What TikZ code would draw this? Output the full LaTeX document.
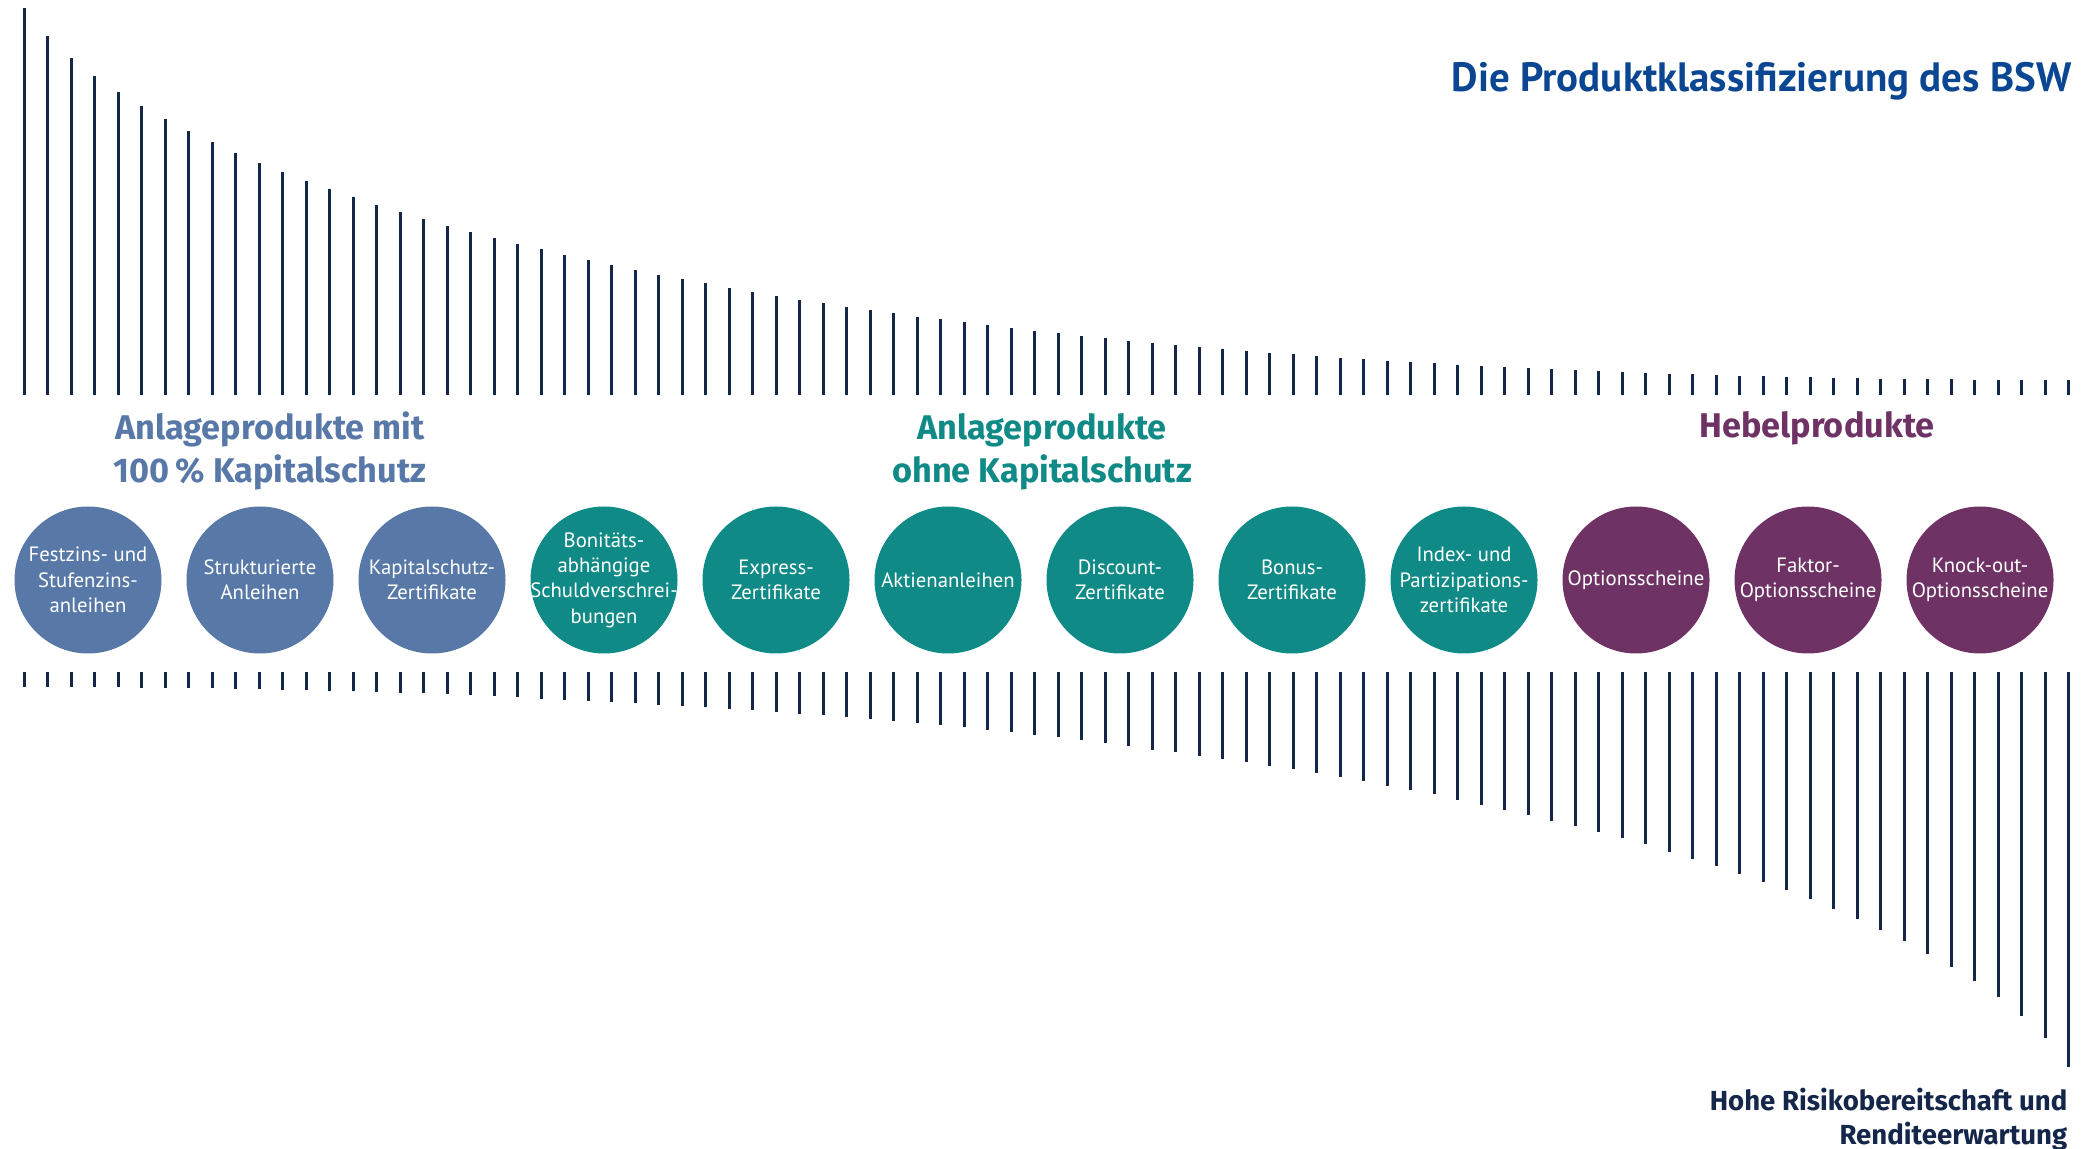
\documentclass[tikz,border=0pt]{standalone}
\usepackage{fontspec}
\setmainfont{Fira Sans}
\newfontfamily\condfont{PT Sans}
\definecolor{navy}{RGB}{20,38,74}
\definecolor{titleblue}{RGB}{10,70,145}
\definecolor{protblue}{RGB}{88,120,168}
\definecolor{bswteal}{RGB}{16,138,134}
\definecolor{bswplum}{RGB}{110,51,100}

\begin{document}
\begin{tikzpicture}[x=0.1mm,y=-0.1mm,
  bar/.style={line width=0.3mm,draw=navy},
  prod/.style={circle,minimum size=14.7mm,inner sep=-1.5mm,text=white,align=center,
    font=\condfont\fontsize{5.9}{7.2}\selectfont},
  group/.style={align=center,inner sep=0pt,anchor=base,font=\bfseries\fontsize{9.75}{12.5}\selectfont}]
\useasboundingbox (0,0) rectangle (2089,1149);

% Bars above the circles (falling)
\foreach \h [count=\i from 0] in {387,359,337,319,303,289,276,264,253,242,232,223,214,206,198,190,183,176,169,163,157,
  151,146,140,135,130,125,120,116,112,107,103,99,95,92,88,85,82,78,76,73,70,67,64,
  62,59,57,54,52,50,48,46,44,42,41,39,37,36,34,33,32,30,29,28,27,26,25,24,23,22,21,21,20,
  19,19,18,18,17,17,16,16,16,16,15,15,15,15,15}
  \draw[bar] (24+23.5*\i,395) -- ++(0,-\h);

% Bars below the circles (rising)
\foreach \h [count=\i from 0] in {387,359,337,319,303,289,276,264,253,242,232,223,214,206,198,190,183,176,169,163,157,
  151,146,140,135,130,125,120,116,112,107,103,99,95,92,88,85,82,78,76,73,70,67,64,
  62,59,57,54,52,50,48,46,44,42,41,39,37,36,34,33,32,30,29,28,27,26,25,24,23,22,21,21,20,
  19,19,18,18,17,17,16,16,16,16,15,15,15,15,15}
  \draw[bar] (2068.5-23.5*\i,672) -- ++(0,1.02*\h);

% Title
\node[anchor=base east,inner sep=0pt,text=titleblue,font=\condfont\bfseries\fontsize{11.65}{14}\selectfont] (title) at (2072,92) {Die Produktklassifizierung des BSW};

% Group labels (base = last line)
\node[group,text=protblue] (protected) at (270,483) {Anlageprodukte mit\\100\,\% Kapitalschutz};
\node[group,text=bswteal] (unprotected) at (1042,483) {Anlageprodukte\\ohne Kapitalschutz};
\node[group,text=bswplum] (leverage) at (1817,438) {Hebelprodukte};

% Products with capital protection
\node[prod,fill=protblue] (festzins) at (88,580) {Festzins- und\\Stufenzins-\\anleihen};
\node[prod,fill=protblue] (strukturiert) at (260,580) {Strukturierte\\Anleihen};
\node[prod,fill=protblue] (kapitalschutz) at (432,580) {Kapitalschutz-\\Zertifikate};

% Products without capital protection
\node[prod,fill=bswteal] (bonitaet) at (604,580) {Bonitäts-\\abhängige\\Schuldverschrei-\\bungen};
\node[prod,fill=bswteal] (express) at (776,580) {Express-\\Zertifikate};
\node[prod,fill=bswteal] (aktien) at (948,580) {Aktienanleihen};
\node[prod,fill=bswteal] (discount) at (1120,580) {Discount-\\Zertifikate};
\node[prod,fill=bswteal] (bonus) at (1292,580) {Bonus-\\Zertifikate};
\node[prod,fill=bswteal] (index) at (1464,580) {Index- und\\Partizipations-\\zertifikate};

% Leverage products
\node[prod,fill=bswplum] (optionen) at (1636,580) {Optionsscheine};
\node[prod,fill=bswplum] (faktor) at (1808,580) {Faktor-\\Optionsscheine};
\node[prod,fill=bswplum] (knockout) at (1980,580) {Knock-out-\\Optionsscheine};

% Risk note
\node[anchor=base east,align=right,inner sep=0pt,text=navy,font=\bfseries\fontsize{7.85}{9.6}\selectfont] (risk) at (2068,1144) {Hohe Risikobereitschaft und\\Renditeerwartung};
\end{tikzpicture}
\end{document}
